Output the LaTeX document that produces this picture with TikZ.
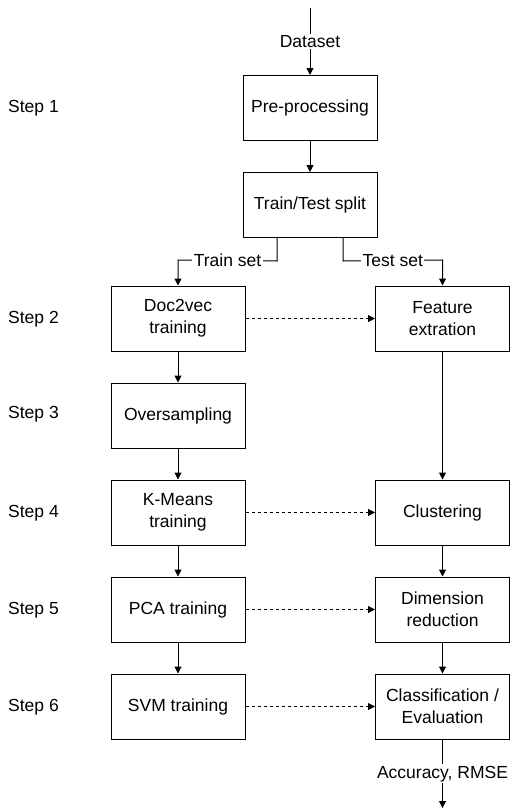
\documentclass[tikz,border=0pt]{standalone}
\usepackage{fontspec}
\setmainfont{Liberation Sans}
\usetikzlibrary{arrows.meta,positioning,calc}
\definecolor{boxline}{rgb}{0.0, 0.0, 0.0}

\begin{document}
\begin{tikzpicture}[x=1pt, y=-1pt, font=\fontsize{17.5}{22}\selectfont,
    box/.style={draw=boxline, line width=1pt, rectangle, minimum width=134pt, minimum height=65pt, align=center, inner sep=2pt},
    steplabel/.style={anchor=west, inner sep=0pt},
    arr/.style={-{Triangle[length=7pt,width=7pt]}, line width=1pt},
    darr/.style={arr, dash pattern=on 3pt off 3pt},
    lbl/.style={midway, fill=white, inner sep=1.5pt}]
    \useasboundingbox (0,0) rectangle (510,811);

    \node[box] (pre) at (310,108) {Pre-processing};
    \node[box] (split) at (310,205) {Train/Test split};

    \node[box] (d2v) at (178,318.5) {Doc2vec\\training};
    \node[box] (over) at (178,415.5) {Oversampling};
    \node[box] (kmt) at (178,512.5) {K-Means\\training};
    \node[box] (pcat) at (178,609.5) {PCA training};
    \node[box] (svmt) at (178,706.5) {SVM training};

    \node[box] (feat) at (442.5,318.5) {Feature\\extration};
    \node[box] (clus) at (442.5,512.5) {Clustering};
    \node[box] (dimr) at (442.5,609.5) {Dimension\\reduction};
    \node[box] (cls) at (442.5,706.5) {Classification /\\Evaluation};

    \node[steplabel] (s1) at (8,108) {Step 1};
    \node[steplabel] (s2) at (8,319) {Step 2};
    \node[steplabel] (s3) at (8,414) {Step 3};
    \node[steplabel] (s4) at (8,513) {Step 4};
    \node[steplabel] (s5) at (8,610) {Step 5};
    \node[steplabel] (s6) at (8,707) {Step 6};

    \coordinate (in) at (310,8);
    \coordinate (out) at (442.5,808);

    % main flow
    \draw[arr] (in) -- node[lbl]{Dataset} (pre);
    \draw[arr] (pre) -- (split);
    \draw[arr] ([xshift=-33pt]split.south) -- ++(0,23) -- node[lbl]{Train set} (d2v.north |- 0,260) -- (d2v.north);
    \draw[arr] ([xshift=33pt]split.south) -- ++(0,23) -- node[lbl]{Test set} (feat.north |- 0,260) -- (feat.north);

    % train column
    \draw[arr] (d2v) -- (over);
    \draw[arr] (over) -- (kmt);
    \draw[arr] (kmt) -- (pcat);
    \draw[arr] (pcat) -- (svmt);

    % test column
    \draw[arr] (feat) -- (clus);
    \draw[arr] (clus) -- (dimr);
    \draw[arr] (dimr) -- (cls);
    \draw[arr] (cls) -- node[lbl]{Accuracy, RMSE} (out);

    % models handed over
    \draw[darr] (d2v) -- (feat);
    \draw[darr] (kmt) -- (clus);
    \draw[darr] (pcat) -- (dimr);
    \draw[darr] (svmt) -- (cls);
\end{tikzpicture}
\end{document}
